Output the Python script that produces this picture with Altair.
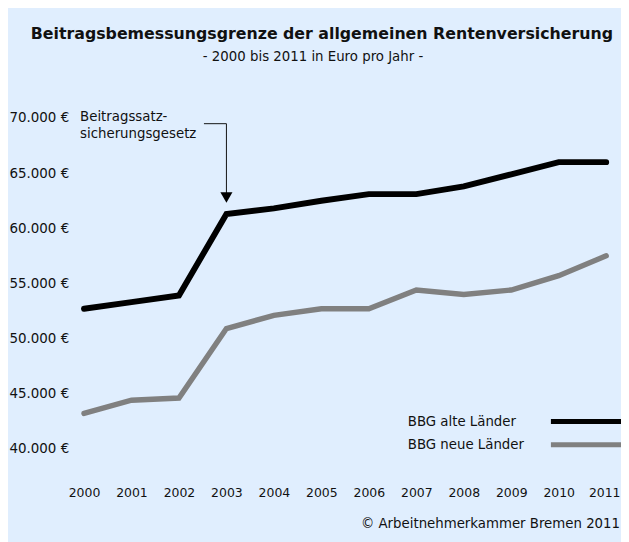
import altair as alt
import pandas as pd

years = [2000, 2001, 2002, 2003, 2004, 2005, 2006, 2007, 2008, 2009, 2010, 2011]
alte_laender = [52700, 53300, 53900, 61300, 61800, 62500, 63100, 63100, 63800, 64900, 66000, 66000]
neue_laender = [43200, 44400, 44600, 50900, 52100, 52700, 52700, 54400, 54000, 54400, 55700, 57500]
series_names = ["BBG alte Länder", "BBG neue Länder"]
series_colors = ["#000000", "#808080"]
y_ticks = [40000, 45000, 50000, 55000, 60000, 65000, 70000]

title_text = "Beitragsbemessungsgrenze der allgemeinen Rentenversicherung"
subtitle_text = "- 2000 bis 2011 in Euro pro Jahr -"
annotation_lines = ["Beitragssatz-", "sicherungsgesetz"]
annotation_year = 2003
source_text = "© Arbeitnehmerkammer Bremen 2011"

FONT = "DejaVu Sans"
BG = "#E0EEFE"
TXT = "#111111"

df = pd.DataFrame({
    "Jahr": years * 2,
    "Wert": alte_laender + neue_laender,
    "Reihe": [series_names[0]] * len(years) + [series_names[1]] * len(years),
})

x_enc = alt.X(
    "Jahr:Q",
    scale=alt.Scale(domain=[years[0], years[-1]], nice=False, zero=False),
    axis=alt.Axis(values=years, format="d", grid=False, domain=False, ticks=False,
                  tickSize=0, labelPadding=44, labelBaseline="middle", title=None,
                  labelFlush=False, labelOverlap=False, labelBound=False,
                  labelOffset=alt.condition(f"datum.value == {years[-1]}", alt.value(-2), alt.value(0)),
                  labelFont=FONT, labelFontSize=12.6, labelColor=TXT),
)
y_enc = alt.Y(
    "Wert:Q",
    scale=alt.Scale(domain=[y_ticks[0], y_ticks[-1]], nice=False, zero=False),
    axis=alt.Axis(values=y_ticks, grid=False, domain=False, ticks=False, tickSize=0,
                  labelExpr="replace(format(datum.value, ',.0f'), ',', '.') + ' €'",
                  labelAlign="left", labelPadding=76, title=None,
                  labelFlush=False, labelOverlap=False,
                  labelFont=FONT, labelFontSize=13.6, labelColor=TXT),
)

lines = alt.Chart(df).mark_line(strokeCap="round", strokeJoin="miter").encode(
    x=x_enc,
    y=y_enc,
    color=alt.Color("Reihe:N", scale=alt.Scale(domain=series_names, range=series_colors), legend=None),
    strokeWidth=alt.StrokeWidth("Reihe:N", scale=alt.Scale(domain=series_names, range=[6, 5.5]), legend=None),
)

one = pd.DataFrame({"k": [0]})


def text_layer(txt, x, y, size=13.5, weight="normal", align="left"):
    return alt.Chart(pd.DataFrame({"t": [txt]})).mark_text(
        font=FONT, fontSize=size, fontWeight=weight, align=align, baseline="middle", color=TXT
    ).encode(x=alt.value(x), y=alt.value(y), text="t:N")


title = text_layer(title_text, 241, -85, size=16, weight="bold", align="center")
subtitle = text_layer(subtitle_text, 232, -62, size=13.5, align="center")
ann1 = text_layer(annotation_lines[0], -4, -1)
ann2 = text_layer(annotation_lines[1], -4, 16)
source = text_layer(source_text, 543, 411, align="right")
leg1 = text_layer(series_names[0], 328, 307.5)
leg2 = text_layer(series_names[1], 328, 331.5)

leg_rule1 = alt.Chart(one).mark_rule(color=series_colors[0], strokeWidth=5).encode(
    x=alt.value(473), x2=alt.value(560), y=alt.value(307.5))
leg_rule2 = alt.Chart(one).mark_rule(color=series_colors[1], strokeWidth=5).encode(
    x=alt.value(473), x2=alt.value(560), y=alt.value(331))

conn_h = alt.Chart(one).mark_rule(color=TXT, strokeWidth=1).encode(
    x=alt.datum(annotation_year), x2=alt.value(121.5), y=alt.value(5.7))
conn_v = alt.Chart(one).mark_rule(color=TXT, strokeWidth=1).encode(
    x=alt.datum(annotation_year), y=alt.value(5.7), y2=alt.value(76))
arrow = alt.Chart(one).mark_point(shape="triangle-down", filled=True, color="#000000",
                                  size=150, opacity=1).encode(
    x=alt.datum(annotation_year), y=alt.value(80.5))

chart = alt.layer(
    lines, conn_h, conn_v, arrow, title, subtitle, ann1, ann2, source,
    leg1, leg2, leg_rule1, leg_rule2,
).properties(
    width=529,
    height=335,
    autosize=alt.AutoSizeParams(type="none"),
    padding={"left": 77, "top": 108, "right": 15, "bottom": 91},
    background=BG,
).configure_view(stroke=None)

chart.save("out.html", embed_options={"renderer": "svg", "actions": False})
